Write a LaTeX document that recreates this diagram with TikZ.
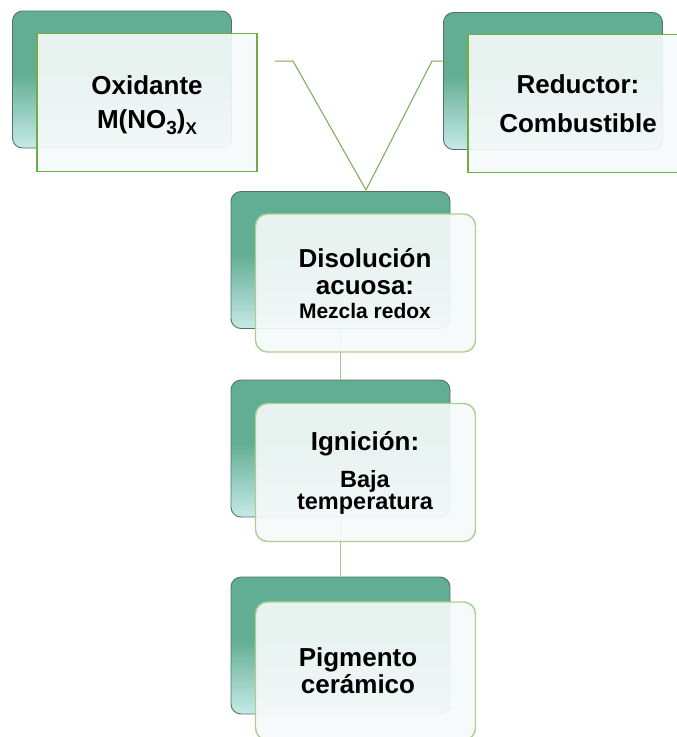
\documentclass[tikz,border=0pt]{standalone}
\usepackage{fontspec}
\setmainfont{Liberation Sans}

\definecolor{bkTeal}{HTML}{62AE94}
\definecolor{bkLight}{HTML}{C6EAE8}
\definecolor{bkEdge}{HTML}{56706A}
\definecolor{frFill}{HTML}{F6FAFA}
\definecolor{frEdgeA}{HTML}{70AD47}
\definecolor{frEdgeB}{HTML}{A9D18E}
\definecolor{linkA}{HTML}{77AB50}
\definecolor{linkB}{HTML}{A2CB8E}

% teal at the top, fading to a pale aqua at the bottom
\pgfdeclareverticalshading{backfade}{100bp}{color(0bp)=(bkLight); color(25bp)=(bkLight); color(52bp)=(bkTeal); color(100bp)=(bkTeal)}

\newcommand\lowsub[2]{\raisebox{-6pt}{\fontsize{#1}{#1}\selectfont #2}}

\tikzset{
  backbox/.style={rectangle, rounded corners=10pt, draw=bkEdge, line width=0.9pt,
    shading=backfade, minimum width=219pt, minimum height=137pt, inner sep=0pt, outer sep=0pt},
  frontsq/.style={rectangle, draw=frEdgeA, line width=1.3pt, fill=frFill, fill opacity=0.91,
    minimum width=220pt, minimum height=138pt, inner sep=0pt, outer sep=0pt},
  frontrd/.style={frontsq, draw=frEdgeB, rounded corners=12pt, line width=1.4pt},
  toplink/.style={draw=linkA, line width=1pt},
  downlink/.style={draw=linkB, line width=1.4pt},
  txt/.style={anchor=base, inner sep=0pt, outer sep=0pt, font=\bfseries\fontsize{26}{26}\selectfont},
  txtsm/.style={txt, font=\bfseries\fontsize{21}{21}\selectfont},
  txtmd/.style={txt, font=\bfseries\fontsize{23.5}{23.5}\selectfont},
}

\begin{document}
\begin{tikzpicture}[x=1pt, y=-1pt]
  \useasboundingbox (0,0) rectangle (677,737);
  \clip (0,0) rectangle (677,737);

  % back (shaded) boxes
  \node[backbox] (oxB) at (122,79.5) {};
  \node[backbox] (reB) at (553,81) {};
  \node[backbox] (diB) at (340.5,260) {};
  \node[backbox] (igB) at (340.5,448.5) {};
  \node[backbox] (piB) at (340.5,645.5) {};

  % connectors
  \coordinate (oxA) at (275,61);
  \coordinate (oxK) at (293,61);
  \coordinate (reA) at (450,61);
  \coordinate (reK) at (432,61);
  \coordinate (joint) at (366,190);
  \draw[toplink] (oxA) -- (oxK) -- (joint);
  \draw[toplink] (reA) -- (reK) -- (joint);
  \draw[downlink] (diB.south) -- (igB.north);
  \draw[downlink] (igB.south) -- (piB.north);

  % front (text) boxes
  \node[frontsq] (oxF) at (147,102.5) {};
  \node[frontsq] (reF) at (578,103.5) {};
  \node[frontrd] (diF) at (365.5,283) {};
  \node[frontrd] (igF) at (365.5,472.5) {};
  \node[frontrd] (piF) at (365.5,671) {};

  % labels
  \node[txt] (ox1) at (147,94) {Oxidante};
  \node[txt] (ox2) at (147,128) {M(NO\lowsub{19}{3})\lowsub{17}{X}};

  \node[txt] (re1) at (578,93) {Reductor:};
  \node[txt] (re2) at (578,132) {Combustible};

  \node[txt] (di1) at (365,267) {Disolución};
  \node[txt] (di2) at (365,294) {acuosa:};
  \node[txtsm] (di3) at (365,318) {Mezcla redox};

  \node[txt] (ig1) at (365,450) {Ignición:};
  \node[txtmd] (ig2) at (365,487) {Baja};
  \node[txtmd] (ig3) at (365,509) {temperatura};

  \node[txt] (pi1) at (358,666) {Pigmento};
  \node[txt] (pi2) at (358,693) {cerámico};
\end{tikzpicture}
\end{document}
